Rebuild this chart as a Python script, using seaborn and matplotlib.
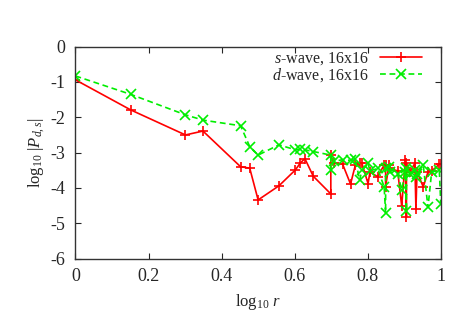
import pandas as pd
import seaborn as sns
import matplotlib
matplotlib.use('Agg')
import matplotlib.pyplot as plt

# log10 r for the lattice separations (duplicate r values appear twice)
log_r = [0.0, 0.151, 0.301, 0.349, 0.452, 0.477, 0.5, 0.557, 0.602, 0.615,
         0.628, 0.651, 0.699, 0.699, 0.707, 0.731, 0.753, 0.766, 0.778, 0.784,
         0.801, 0.806, 0.827, 0.845, 0.849, 0.849, 0.858, 0.862, 0.882, 0.893,
         0.903, 0.906, 0.906, 0.916, 0.929, 0.932, 0.935, 0.952, 0.965, 0.975,
         0.996, 1.0]

s_wave = [-0.94, -1.79, -2.50, -2.39, -3.40, -3.44, -4.34, -3.94, -3.49, -3.30,
          -3.17, -3.67, -4.17, -3.08, -3.30, -3.32, -3.89, -3.36, -3.30, -3.30,
          -3.88, -3.55, -3.68, -3.35, -3.35, -3.96, -3.36, -3.45, -3.52, -4.51,
          -3.20, -4.82, -3.30, -3.55, -3.30, -4.60, -3.55, -3.97, -3.55, -3.52,
          -3.33, -3.33]

d_wave = [-0.83, -1.35, -1.93, -2.08, -2.24, -2.83, -3.07, -2.78, -2.92, -2.91,
          -2.92, -2.97, -3.07, -3.50, -3.25, -3.20, -3.22, -3.19, -3.78, -3.50,
          -3.30, -3.52, -3.45, -3.97, -4.72, -3.45, -3.40, -3.55, -3.60, -4.05,
          -3.55, -4.65, -3.45, -3.60, -3.50, -3.70, -3.60, -3.35, -4.55, -3.55,
          -3.50, -4.45]

s_label = '$s$-wave, 16x16'
d_label = '$d$-wave, 16x16'

df = pd.concat([
    pd.DataFrame({'x': log_r, 'y': s_wave, 'wave': s_label}),
    pd.DataFrame({'x': log_r, 'y': d_wave, 'wave': d_label}),
], ignore_index=True)

sns.set_style('ticks')
plt.rcParams['font.family'] = ['Liberation Serif', 'DejaVu Serif']
plt.rcParams['mathtext.fontset'] = 'custom'
plt.rcParams['mathtext.rm'] = 'Liberation Serif'
plt.rcParams['mathtext.it'] = 'Liberation Serif:italic'
plt.rcParams['axes.unicode_minus'] = False

fig = plt.figure(figsize=(4.63, 3.24), dpi=100)
ax = fig.add_axes([0.163, 0.202, 0.789, 0.654])

sns.lineplot(data=df, x='x', y='y', hue='wave', style='wave',
             palette={s_label: '#ff0000', d_label: '#00ee00'},
             markers={s_label: '+', d_label: 'x'},
             dashes={s_label: '', d_label: (3.5, 2.2)},
             sort=False, estimator=None, linewidth=1.2,
             markersize=7, ax=ax)

# seaborn paints marker edges white by default; '+' and 'x' need the line colour
for ln in ax.lines:
    ln.set_markeredgecolor(ln.get_color())
    ln.set_markeredgewidth(1.2)

ax.set_xlim(0, 1)
ax.set_ylim(-6, 0)
ax.set_xticks([0, 0.2, 0.4, 0.6, 0.8, 1])
ax.set_xticklabels(['0', '0.2', '0.4', '0.6', '0.8', '1'])
ax.set_yticks(range(-6, 1))
ax.tick_params(direction='in', top=True, right=True, length=4, width=0.8,
               labelsize=13, pad=7)
for sp in ax.spines.values():
    sp.set_visible(True)
    sp.set_linewidth(1.0)
    sp.set_color('#333333')

ax.set_xlabel('log$_{10}$ $r$', fontsize=12, labelpad=5)
ax.set_ylabel('log$_{10}$ |$P_{d,s}$|', fontsize=12, labelpad=3)

handles, labels = ax.get_legend_handles_labels()
for h in handles:
    h.set_markeredgecolor(h.get_color())
    h.set_markeredgewidth(1.2)
ax.legend(handles, labels, loc='upper right', frameon=False, markerfirst=False,
          fontsize=11.5, handlelength=2.6, labelspacing=0.0, handletextpad=0.75,
          bbox_to_anchor=(0.948, 0.985), borderaxespad=0, borderpad=0)

fig.savefig('out.png', dpi=100)
